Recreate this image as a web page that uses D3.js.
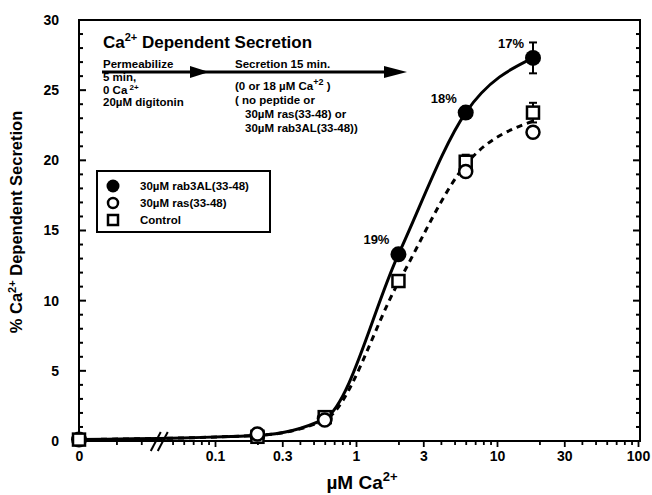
<!DOCTYPE html>
<meta charset="utf-8">
<html>
<script src="https://d3js.org/d3.v7.min.js"></script>
<style>
    body { margin: 0; background: #fff; }
    svg { font-family: "Liberation Sans", Arial, sans-serif; font-weight: bold; }
</style>
<body>
<div id="chart"></div>
<script>

    // values
    var concentrations = [0, 0.2, 0.6, 2, 6, 18];          // uM Ca2+
    var rab3AL = [0.1, 0.4, 1.6, 13.3, 23.4, 27.3];
    var rab3ALErr = [0, 0, 0, 0.4, 0.4, 1.1];
    var ras = [0.1, 0.5, 1.5, 11.2, 19.2, 22.0];
    var control = [0.1, 0.3, 1.7, 11.4, 19.9, 23.4];
    var controlErr = [0, 0, 0, 0.3, 0.5, 0.7];
    var dashedFit = [0.1, 0.4, 1.5, 11.3, 19.7, 22.8];
    var pctLabels = ["", "", "", "19%", "18%", "17%"];

    var xTickValues = [0, 0.1, 0.3, 1, 3, 10, 30, 100];
    var xTickLabels = ["0", "0.1", "0.3", "1", "3", "10", "30", "100"];
    var yTickValues = [0, 5, 10, 15, 20, 25, 30];

    var W = 652, H = 495;
    var pLeft = 79, pRight = 640, pTop = 20, pBottom = 441;

    var svg = d3.select("#chart").append("svg")
        .attr("width", W)
        .attr("height", H);

    var y = d3.scaleLinear().domain([0, 30]).range([pBottom, pTop]);
    var xLog = d3.scaleLog().domain([0.01, 100]).range([74, 638]);
    var zeroVal = xLog.invert(pLeft);   // where "0" sits, left of the axis break
    var xv = function (v) { return v === 0 ? zeroVal : v; };
    var x = function (v) { return xLog(xv(v)); };

    // frame
    svg.append("rect")
        .attr("x", pLeft).attr("y", pTop)
        .attr("width", pRight - pLeft).attr("height", pBottom - pTop)
        .attr("fill", "none").attr("stroke", "#000").attr("stroke-width", 2);

    // Y axis labels
    svg.append("g")
        .attr("transform", "translate(" + pLeft + ",0)")
        .call(d3.axisLeft(y).tickValues(yTickValues).tickSize(0).tickPadding(20))
        .call(function (g) { g.select(".domain").remove(); });

    // Y ticks, every unit, pointing inward on both sides
    var yAll = d3.range(0, 31);
    [[pLeft, 1], [pRight, -1]].forEach(function (side) {
        svg.append("g").selectAll("line").data(yAll).enter().append("line")
            .attr("x1", side[0])
            .attr("x2", function (d) { return side[0] + side[1] * (d % 5 === 0 ? 7 : 4); })
            .attr("y1", function (d) { return y(d); })
            .attr("y2", function (d) { return y(d); })
            .attr("stroke", "#000").attr("stroke-width", 2);
    });

    // X axis (log, with break near zero)
    var xMinor = [0.02, 0.03];
    [0.01, 0.1, 1, 10].forEach(function (dec) {
        d3.range(2, 10).forEach(function (m) {
            var v = m * dec;
            if (v > 0.045 && xTickValues.indexOf(+v.toFixed(3)) < 0) xMinor.push(v);
        });
    });
    svg.append("g")
        .attr("transform", "translate(0," + pBottom + ")")
        .call(d3.axisBottom(xLog).tickValues(xTickValues.map(xv)).tickSizeInner(6).tickSizeOuter(0).tickPadding(4)
            .tickFormat(function (d, i) { return xTickLabels[i]; }))
        .call(function (g) { g.select(".domain").remove(); });
    svg.append("g")
        .attr("transform", "translate(0," + pBottom + ")")
        .call(d3.axisBottom(xLog).tickValues(xMinor).tickSizeInner(4).tickSizeOuter(0).tickFormat(""))
        .call(function (g) { g.select(".domain").remove(); });

    svg.selectAll(".tick line").attr("stroke", "#000").attr("stroke-width", 1.8);
    svg.selectAll(".tick text").attr("font-size", 14).attr("font-weight", "bold")
        .attr("font-family", "'Liberation Sans', Arial, sans-serif").attr("fill", "#000");

    // axis break marks
    var bx = xLog(0.038);
    [0, 7].forEach(function (o) {
        svg.append("line")
            .attr("x1", bx + o - 5).attr("y1", pBottom + 10)
            .attr("x2", bx + o + 5).attr("y2", pBottom - 9)
            .attr("stroke", "#000").attr("stroke-width", 2);
    });

    // axis titles
    var xt = svg.append("text")
        .attr("x", 362).attr("y", 489)
        .attr("text-anchor", "middle").attr("font-size", 19);
    xt.append("tspan").text("\u00b5M Ca");
    xt.append("tspan").attr("dy", -8).attr("font-size", 13).text("2+");

    var yt = svg.append("text")
        .attr("transform", "translate(22," + 222 + ") rotate(-90)")
        .attr("text-anchor", "middle").attr("font-size", 16.5);
    yt.append("tspan").text("% Ca");
    yt.append("tspan").attr("dy", -6).attr("font-size", 11).text("2+");
    yt.append("tspan").attr("dy", 6).text(" Dependent Secretion");

    // curves
    var line = d3.line()
        .x(function (d) { return x(d[0]); })
        .y(function (d) { return y(d[1]); })
        .curve(d3.curveMonotoneX);

    svg.append("path")
        .datum(d3.zip(concentrations, dashedFit))
        .attr("fill", "none").attr("stroke", "#000")
        .attr("stroke-width", 3).attr("stroke-dasharray", "6,5")
        .attr("d", line);
    svg.append("path")
        .datum(d3.zip(concentrations, rab3AL))
        .attr("fill", "none").attr("stroke", "#000")
        .attr("stroke-width", 3)
        .attr("d", line);

    // error bars
    function errBars(vals, errs) {
        concentrations.forEach(function (c, i) {
            if (!errs[i]) return;
            var cx = x(c), y1 = y(vals[i] + errs[i]), y2 = y(vals[i] - errs[i]);
            svg.append("line").attr("x1", cx).attr("x2", cx).attr("y1", y1).attr("y2", y2)
                .attr("stroke", "#000").attr("stroke-width", 2);
            [y1, y2].forEach(function (yy) {
                svg.append("line").attr("x1", cx - 4).attr("x2", cx + 4).attr("y1", yy).attr("y2", yy)
                    .attr("stroke", "#000").attr("stroke-width", 2);
            });
        });
    }
    errBars(rab3AL, rab3ALErr);
    errBars(control, controlErr);

    // markers
    svg.selectAll(".filled").data(d3.zip(concentrations, rab3AL)).enter()
        .append("circle")
        .attr("cx", function (d) { return x(d[0]); })
        .attr("cy", function (d) { return y(d[1]); })
        .attr("r", 8).attr("fill", "#000");
    svg.selectAll(".square").data(d3.zip(concentrations, control)).enter()
        .append("rect")
        .attr("x", function (d) { return x(d[0]) - 6; })
        .attr("y", function (d) { return y(d[1]) - 6; })
        .attr("width", 12).attr("height", 12)
        .attr("fill", "#fff").attr("stroke", "#000").attr("stroke-width", 2.5);
    svg.selectAll(".open").data(d3.zip(concentrations, ras)).enter()
        .append("circle")
        .attr("cx", function (d) { return x(d[0]); })
        .attr("cy", function (d) { return y(d[1]); })
        .attr("r", 6.5).attr("fill", "#fff").attr("stroke", "#000").attr("stroke-width", 2.5)
        .attr("display", function (d) { return d[0] === 2 || d[0] === 0 ? "none" : null; });

    // percent labels
    svg.selectAll(".pct").data(d3.zip(concentrations, rab3AL, pctLabels)).enter()
        .append("text")
        .attr("x", function (d) { return x(d[0]) - 9; })
        .attr("y", function (d) { return y(d[1]) - 10; })
        .attr("text-anchor", "end").attr("font-size", 13)
        .text(function (d) { return d[2]; });

    // annotation
    var ann = svg.append("text").attr("x", 103).attr("y", 48).attr("font-size", 17);
    ann.append("tspan").text("Ca");
    ann.append("tspan").attr("dy", -7).attr("font-size", 11).text("2+");
    ann.append("tspan").attr("dy", 7).text(" Dependent Secretion");

    svg.append("line").attr("x1", 102).attr("x2", 396).attr("y1", 72).attr("y2", 72)
        .attr("stroke", "#000").attr("stroke-width", 3);
    [[190, 209], [384, 407]].forEach(function (a) {
        svg.append("path")
            .attr("d", "M" + a[0] + ",66 L" + a[1] + ",72 L" + a[0] + ",78 Z")
            .attr("fill", "#000");
    });

    var small = 11.5;
    svg.append("text").attr("x", 103).attr("y", 68).attr("font-size", small).text("Permeabilize");
    svg.append("text").attr("x", 103).attr("y", 81).attr("font-size", small).text("5 min,");
    var ca0 = svg.append("text").attr("x", 103).attr("y", 94).attr("font-size", small);
    ca0.append("tspan").text("0 Ca");
    ca0.append("tspan").attr("dy", -4).attr("font-size", 8).text(" 2+");
    svg.append("text").attr("x", 103).attr("y", 106).attr("font-size", small).text("20\u00b5M digitonin");

    svg.append("text").attr("x", 235).attr("y", 68).attr("font-size", small).text("Secretion 15 min.");
    var ca18 = svg.append("text").attr("x", 235).attr("y", 90).attr("font-size", small);
    ca18.append("tspan").text("(0 or 18 \u00b5M Ca");
    ca18.append("tspan").attr("dy", -5).attr("font-size", 9).text("+2");
    ca18.append("tspan").attr("dy", 5).text("  )");
    svg.append("text").attr("x", 235).attr("y", 104).attr("font-size", small).text("( no  peptide  or");
    svg.append("text").attr("x", 245).attr("y", 118).attr("font-size", small).text("30\u00b5M ras(33-48)  or");
    svg.append("text").attr("x", 245).attr("y", 132).attr("font-size", small).text("30\u00b5M rab3AL(33-48))");

    // legend
    svg.append("rect").attr("x", 97).attr("y", 171).attr("width", 173).attr("height", 61)
        .attr("fill", "#fff").attr("stroke", "#000").attr("stroke-width", 2);
    var legendNames = ["30\u00b5M rab3AL(33-48)", "30\u00b5M ras(33-48)", "Control"];
    legendNames.forEach(function (name, i) {
        var ly = 186 + i * 17;
        if (i === 0) svg.append("circle").attr("cx", 113).attr("cy", ly).attr("r", 6.5).attr("fill", "#000");
        if (i === 1) svg.append("circle").attr("cx", 113).attr("cy", ly).attr("r", 5)
            .attr("fill", "#fff").attr("stroke", "#000").attr("stroke-width", 2.5);
        if (i === 2) svg.append("rect").attr("x", 108).attr("y", ly - 5).attr("width", 10).attr("height", 10)
            .attr("fill", "#fff").attr("stroke", "#000").attr("stroke-width", 2.5);
        svg.append("text").attr("x", 140).attr("y", ly + 4).attr("font-size", 11.5).text(name);
    });

</script>
</body>
</html>
